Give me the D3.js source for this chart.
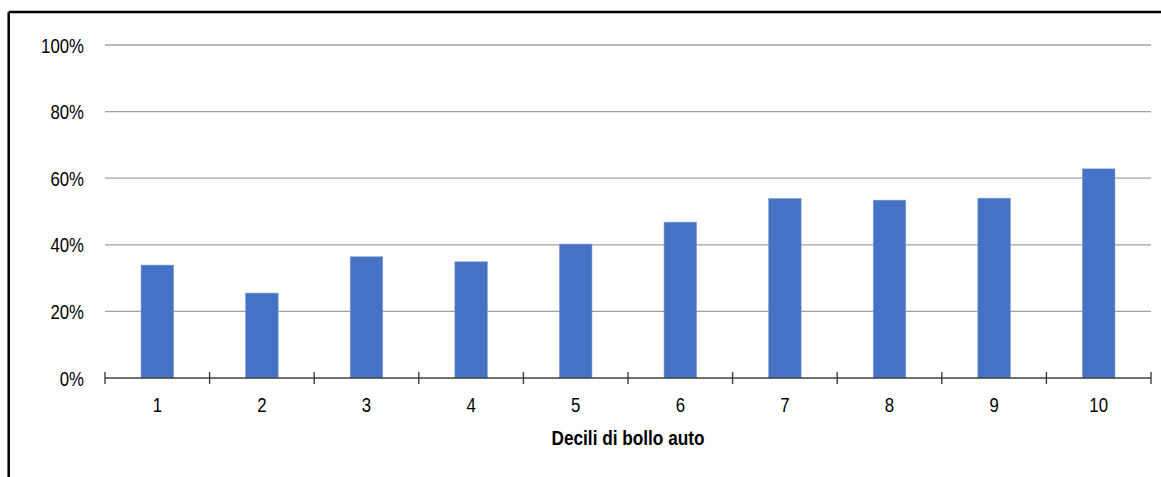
<!DOCTYPE html>
<html>
<head>
<meta charset="utf-8">
<script src="https://cdn.jsdelivr.net/npm/d3@7"></script>
<style>
  html, body { margin: 0; padding: 0; background: #fff; }
  svg { display: block; }
  text { font-family: "Liberation Sans", Arial, sans-serif; }
</style>
</head>
<body>
<svg id="chart" width="1161" height="477"></svg>
<script>
// Deciles of car tax and share per decile
const deciles = ["1", "2", "3", "4", "5", "6", "7", "8", "9", "10"];
const shares = [0.339, 0.255, 0.364, 0.349, 0.402, 0.468, 0.539, 0.534, 0.540, 0.628];
const yTicks = [0, 0.2, 0.4, 0.6, 0.8, 1.0];
const xTitle = "Decili di bollo auto";

(function () {
  const svg = d3.select("#chart");
  const W = 1161, H = 477;
  const plotLeft = 105, plotRight = 1151, plotTop = 45, plotBottom = 378;
  const narrow = 0.8; // condensed lettering
  const fs = 21;

  // frame: top and left rules
  svg.append("line").attr("x1", 8.7).attr("x2", W).attr("y1", 12).attr("y2", 12)
    .attr("stroke", "#000").attr("stroke-width", 2.5);
  svg.append("line").attr("x1", 8.7).attr("x2", 8.7).attr("y1", 12).attr("y2", H)
    .attr("stroke", "#000").attr("stroke-width", 2.5);

  const x = d3.scaleBand().domain(deciles).range([plotLeft, plotRight]).paddingInner(0).paddingOuter(0);
  const y = d3.scaleLinear().domain([0, 1]).range([plotBottom, plotTop]);

  // horizontal gridlines
  svg.append("g").selectAll("line").data(yTicks.filter(d => d > 0)).join("line")
    .attr("x1", plotLeft).attr("x2", plotRight)
    .attr("y1", d => y(d)).attr("y2", d => y(d))
    .attr("stroke", "#a0a0a0").attr("stroke-width", 1.3);

  // y tick labels
  svg.append("g").selectAll("text").data(yTicks).join("text")
    .attr("transform", d => `translate(84,${y(d)}) scale(${narrow},1)`)
    .attr("dy", "0.36em")
    .attr("text-anchor", "end").attr("font-size", fs).attr("fill", "#000")
    .text(d => d3.format(".0%")(d));

  // bars
  const barW = 32.5;
  svg.append("g").selectAll("rect").data(deciles).join("rect")
    .attr("x", d => x(d) + x.bandwidth() / 2 - barW / 2)
    .attr("width", barW)
    .attr("y", (d, i) => y(shares[i]))
    .attr("height", (d, i) => y(0) - y(shares[i]))
    .attr("fill", "#4472c4")
    .attr("stroke", "#7e9ad6").attr("stroke-width", 0.6);

  // x axis line with ticks at category boundaries
  svg.append("line").attr("x1", plotLeft).attr("x2", plotRight).attr("y1", plotBottom).attr("y2", plotBottom)
    .attr("stroke", "#404040").attr("stroke-width", 1.6);
  const bounds = deciles.map(d => x(d)).concat([plotRight]);
  svg.append("g").selectAll("line").data(bounds).join("line")
    .attr("x1", d => d).attr("x2", d => d)
    .attr("y1", plotBottom - 6).attr("y2", plotBottom + 6)
    .attr("stroke", "#404040").attr("stroke-width", 1.4);

  // x tick labels
  svg.append("g").selectAll("text").data(deciles).join("text")
    .attr("transform", d => `translate(${x(d) + x.bandwidth() / 2},412) scale(${narrow},1)`)
    .attr("text-anchor", "middle").attr("font-size", fs).attr("fill", "#000")
    .text(d => d);

  // x axis title
  svg.append("text")
    .attr("transform", `translate(${(plotLeft + plotRight) / 2},445) scale(0.82,1)`)
    .attr("text-anchor", "middle").attr("font-size", fs).attr("font-weight", "bold")
    .attr("fill", "#000").text(xTitle);
})();
</script>
</body>
</html>
